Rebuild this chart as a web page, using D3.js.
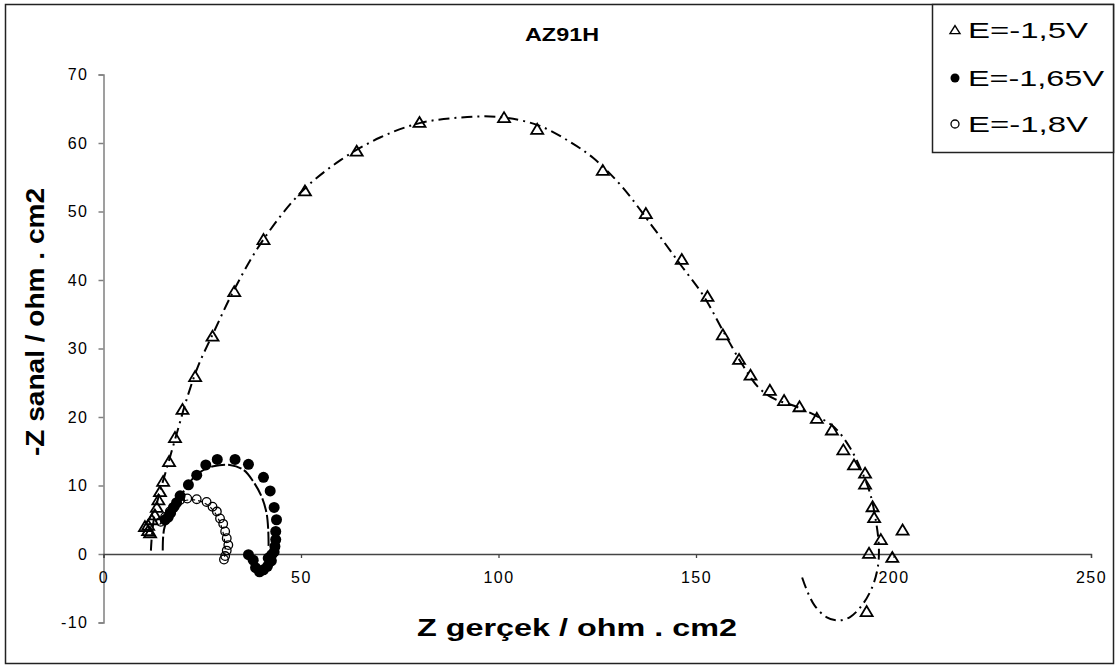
<!DOCTYPE html>
<html>
<head>
<meta charset="utf-8">
<script src="https://cdn.jsdelivr.net/npm/d3@7"></script>
<style>
  html, body { margin: 0; padding: 0; background: #fff; }
  svg { display: block; }
  text { font-family: "Liberation Sans", Arial, sans-serif; fill: #000; }
</style>
</head>
<body>
<svg id="chart" width="1118" height="669"></svg>
<script>
// Nyquist data for AZ91H at three polarisation potentials (Z' , -Z'' in ohm.cm2)

// E = -1,5 V : measured points
const e15Re = [10.5, 11.3, 11.8, 11.3, 12.2, 13.0, 13.5, 13.9, 14.3, 15.1, 16.6, 18.1, 20.0, 23.2, 27.6, 33.1, 40.5, 51.0, 64.1, 80.0,
               101.4, 109.8, 126.4, 137.3, 146.4, 152.9, 156.8, 160.9, 163.8, 168.7, 172.3, 176.2, 180.6, 184.4, 187.3, 190.0,
               192.8, 192.8, 194.7, 195.1, 196.8, 193.8, 199.7, 202.3, 193.2];
const e15Im = [4.0, 3.4, 3.1, 4.2, 5.0, 5.7, 6.8, 7.9, 9.1, 10.6, 13.5, 17.0, 21.1, 25.9, 31.8, 38.3, 45.9, 53.0, 58.8, 63.0,
               63.7, 62.0, 56.0, 49.7, 43.0, 37.6, 32.0, 28.4, 26.1, 23.9, 22.4, 21.5, 19.8, 18.1, 15.2, 13.0,
               11.8, 10.2, 6.9, 5.3, 2.1, 0.1, -0.5, 3.5, -8.4];
// E = -1,5 V : fitted curve
const e15FitRe = [12.0, 12.3, 13.0, 14.0, 15.5, 17.0, 19.0, 21.0, 24.0, 28.0, 33.0, 40.0, 50.0, 60.0, 70.0, 80.0, 90.0, 100.0,
                  110.0, 118.0, 124.0, 131.0, 139.0, 146.0, 152.0, 157.0, 162.0, 166.0, 170.0, 175.0, 180.0, 185.0, 189.0,
                  192.0, 194.0, 195.5, 196.3, 196.0, 194.5, 192.0, 189.0, 186.0, 183.0, 180.0, 178.0, 176.5];
const e15FitIm = [0.5, 3.0, 6.0, 8.5, 11.5, 14.5, 18.5, 22.5, 27.5, 32.5, 38.5, 45.5, 52.8, 57.5, 60.8, 62.9, 63.7, 63.8,
                  62.6, 60.2, 57.8, 53.8, 47.8, 42.3, 37.6, 32.4, 27.4, 24.2, 22.6, 21.6, 20.3, 18.5, 15.5,
                  12.0, 9.0, 5.0, 1.0, -2.0, -5.0, -7.5, -9.2, -9.7, -9.2, -7.5, -5.2, -2.8];

// E = -1,65 V : measured points
const e165Re = [15.6, 16.4, 17.0, 17.7, 18.5, 19.4, 21.5, 23.6, 25.9, 28.8, 33.3, 36.7, 40.5, 42.2, 43.2, 43.8, 43.6, 43.6,
                43.4, 43.2, 42.6, 41.7, 42.5, 41.5, 40.5, 39.5, 38.5, 37.9, 36.7];
const e165Im = [5.0, 5.4, 6.0, 6.8, 7.5, 8.5, 10.1, 11.5, 13.0, 13.8, 13.8, 13.1, 11.2, 9.2, 6.8, 5.0, 3.3, 2.1,
                1.1, 0.3, -0.1, -0.6, -1.0, -1.8, -2.3, -2.6, -2.0, -0.9, -0.1];
// E = -1,65 V : fitted curve
const e165FitRe = [15.0, 15.1, 15.5, 17.0, 19.0, 21.0, 24.0, 27.8, 32.0, 35.4, 37.9, 40.0, 41.3, 41.7, 41.8];
const e165FitIm = [0.5, 2.5, 4.0, 5.8, 7.8, 9.8, 11.8, 12.8, 13.0, 12.3, 10.6, 8.4, 5.9, 3.5, 1.0];

// E = -1,8 V : measured points
const e18Re = [14.5, 15.6, 16.8, 18.1, 19.4, 21.2, 23.6, 26.1, 27.6, 28.7, 29.5, 30.3, 30.8, 31.2, 31.6, 31.2, 30.8, 30.5];
const e18Im = [4.7, 5.4, 6.2, 7.0, 7.9, 8.1, 8.0, 7.6, 6.9, 6.2, 5.2, 4.4, 3.3, 2.3, 1.3, 0.5, -0.3, -0.8];
// E = -1,8 V : fitted curve
const e18FitRe = [14.2, 16.0, 18.0, 20.0, 23.0, 26.0, 28.0, 29.5, 30.4, 30.8, 30.6];
const e18FitIm = [4.3, 5.7, 7.0, 7.7, 7.9, 7.3, 6.2, 4.6, 2.8, 1.0, -0.6];

// Axis ticks and labels
const xTicks = [0, 50, 100, 150, 200, 250];
const yTicks = [-10, 0, 10, 20, 30, 40, 50, 60, 70];
const legendLabels = ["E=-1,5V", "E=-1,65V", "E=-1,8V"];
const chartTitle = "AZ91H";
const xTitle = "Z gerçek / ohm . cm2";
const yTitle = "-Z sanal / ohm . cm2";

const zip = (a, b) => a.map((v, i) => [v, b[i]]);

const svg = d3.select("#chart");

// outer frame
svg.append("rect")
  .attr("x", 5.5).attr("y", 4.5).attr("width", 1108).attr("height", 659)
  .attr("fill", "#fff").attr("stroke", "#222").attr("stroke-width", 1.5);

const x = d3.scaleLinear().domain([0, 250]).range([103.5, 1091]);
const y = d3.scaleLinear().domain([-10, 70]).range([622.5, 74.5]);

// plain hyphen for negative tick labels
const fmt = d => String(d);

// y axis (left, grey)
const yAxis = svg.append("g")
  .attr("transform", `translate(${x(0)},0)`)
  .call(d3.axisLeft(y).tickValues(yTicks).tickSize(5).tickPadding(10).tickFormat(fmt));
yAxis.select(".domain").attr("stroke", "#808080").attr("stroke-width", 1.5);
yAxis.selectAll(".tick line").attr("stroke", "#808080").attr("stroke-width", 1.5);
yAxis.selectAll(".tick text").attr("font-size", 16).style("letter-spacing", "1.5px")
  .attr("font-family", "Liberation Sans, Arial, sans-serif");

// x axis drawn along Z'' = 0
const xAxis = svg.append("g")
  .attr("transform", `translate(0,${y(0)})`)
  .call(d3.axisBottom(x).tickValues(xTicks).tickSize(4).tickPadding(14).tickFormat(fmt));
xAxis.select(".domain").attr("stroke", "#444").attr("stroke-width", 1.3);
xAxis.selectAll(".tick line").attr("stroke", "#444").attr("stroke-width", 1.3);
xAxis.selectAll(".tick text").attr("font-size", 16).style("letter-spacing", "1.5px")
  .attr("font-family", "Liberation Sans, Arial, sans-serif");

// fitted curves
const line = d3.line().x(d => x(d[0])).y(d => y(d[1])).curve(d3.curveCatmullRom.alpha(0.5));
const plot = svg.append("g");
plot.append("path").datum(zip(e15FitRe, e15FitIm)).attr("d", line)
  .attr("fill", "none").attr("stroke", "#000").attr("stroke-width", 2)
  .attr("stroke-dasharray", "11,5,2,5");
plot.append("path").datum(zip(e165FitRe, e165FitIm)).attr("d", line)
  .attr("fill", "none").attr("stroke", "#000").attr("stroke-width", 2)
  .attr("stroke-dasharray", "14,3");
plot.append("path").datum(zip(e18FitRe, e18FitIm)).attr("d", line)
  .attr("fill", "none").attr("stroke", "#000").attr("stroke-width", 1.2)
  .attr("stroke-dasharray", "4,3");

// markers
const triPath = (w, h) => `M0,${-h * 0.55}L${w / 2},${h * 0.45}L${-w / 2},${h * 0.45}Z`;
plot.append("g").selectAll("path").data(zip(e15Re, e15Im)).join("path")
  .attr("transform", d => `translate(${x(d[0])},${y(d[1])})`)
  .attr("d", triPath(12, 10))
  .attr("fill", "none").attr("stroke", "#000").attr("stroke-width", 1.8).attr("stroke-linejoin", "miter");
plot.append("g").selectAll("circle").data(zip(e165Re, e165Im)).join("circle")
  .attr("cx", d => x(d[0])).attr("cy", d => y(d[1])).attr("r", 5.5)
  .attr("fill", "#000");
plot.append("g").selectAll("circle").data(zip(e18Re, e18Im)).join("circle")
  .attr("cx", d => x(d[0])).attr("cy", d => y(d[1])).attr("r", 4.3)
  .attr("fill", "none").attr("stroke", "#000").attr("stroke-width", 1.3);

// title
svg.append("text").attr("x", 562).attr("y", 41).attr("text-anchor", "middle")
  .attr("font-size", 18).attr("font-weight", "bold")
  .attr("textLength", 74).attr("lengthAdjust", "spacingAndGlyphs")
  .text(chartTitle);

// axis titles
svg.append("text").attr("x", 577).attr("y", 636).attr("text-anchor", "middle")
  .attr("font-size", 24).attr("font-weight", "bold")
  .attr("textLength", 320).attr("lengthAdjust", "spacingAndGlyphs")
  .text(xTitle);
svg.append("text").attr("transform", "translate(44,322) rotate(-90)").attr("text-anchor", "middle")
  .attr("font-size", 25).attr("font-weight", "bold")
  .attr("textLength", 268).attr("lengthAdjust", "spacingAndGlyphs")
  .text(yTitle);

// legend
const lg = svg.append("g");
lg.append("rect").attr("x", 932.5).attr("y", 4.5).attr("width", 181).attr("height", 148)
  .attr("fill", "#fff").attr("stroke", "#222").attr("stroke-width", 1.5);
const rows = [30, 78, 124];
const lgWidths = [120, 136, 120];
lg.append("path").attr("transform", `translate(955,${rows[0]})`).attr("d", triPath(10, 8))
  .attr("fill", "none").attr("stroke", "#000").attr("stroke-width", 1.4);
lg.append("circle").attr("cx", 955).attr("cy", rows[1]).attr("r", 4.5).attr("fill", "#000");
lg.append("circle").attr("cx", 955).attr("cy", rows[2]).attr("r", 4).attr("fill", "none")
  .attr("stroke", "#000").attr("stroke-width", 1.3);
lg.selectAll("text.lab").data(legendLabels).join("text").attr("class", "lab")
  .attr("x", 968).attr("y", (d, i) => rows[i] + 8)
  .attr("font-size", 22)
  .attr("textLength", (d, i) => lgWidths[i]).attr("lengthAdjust", "spacingAndGlyphs")
  .text(d => d);
</script>
</body>
</html>
